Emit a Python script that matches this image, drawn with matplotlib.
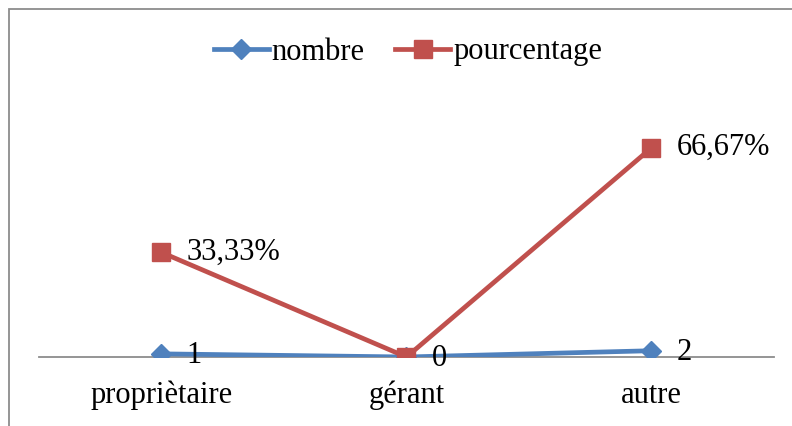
import matplotlib.pyplot as plt
from matplotlib.patches import Rectangle

# Données
categories = ['propriètaire', 'gérant', 'autre']
nombre = [1, 0, 2]
pourcentage = [33.33, 0, 66.67]
etiquettes_pct = ['33,33%', '0', '66,67%']
etiquettes_nb = ['1', '0', '2']

plt.rcParams['font.family'] = ['Liberation Serif', 'DejaVu Serif']

fig = plt.figure(figsize=(7.92, 4.26), dpi=100)

# Cadre du graphique (partiellement coupé à droite et en bas)
fig.patches.append(Rectangle((9 / 792, -0.1), 1.2, (426 - 9) / 426 + 0.1,
                             transform=fig.transFigure, fill=False,
                             edgecolor='#8c8c8c', linewidth=1.3))

ax = fig.add_axes([39 / 792, 69 / 426, (774 - 39) / 792, 251 / 426])
x = range(len(categories))

ax.plot(x, nombre, color='#4F81BD', linewidth=3.4, marker='D', markersize=10,
        label='nombre', zorder=3)
ax.plot(x, pourcentage, color='#C0504D', linewidth=3.4, marker='s', markersize=13,
        label='pourcentage', zorder=3)

# Étiquettes de données
for i in x:
    if pourcentage[i] != 0:
        ax.annotate(etiquettes_pct[i], (i, pourcentage[i]), xytext=(18, 0),
                    textcoords='offset points', va='center', ha='left', fontsize=22)
    ax.annotate(etiquettes_nb[i], (i, nombre[i]), xytext=(18, -1),
                textcoords='offset points', va='center', ha='left', fontsize=22)

ax.set_xlim(-0.5, 2.5)
ax.set_ylim(0, 80)
ax.set_xticks(list(x))
ax.set_xticklabels(categories, fontsize=22)
ax.tick_params(axis='x', length=0, pad=17)
ax.set_yticks([])
for s in ['top', 'right', 'left']:
    ax.spines[s].set_visible(False)
ax.spines['bottom'].set_color('#8c8c8c')
ax.spines['bottom'].set_linewidth(1.3)
ax.spines['bottom'].set_zorder(1)
ax.patch.set_alpha(0)

# Légende
fig.legend(loc='center', bbox_to_anchor=(408 / 792, 1 - 52 / 426), ncol=2,
           frameon=False, fontsize=22, handlelength=1.8, handletextpad=0.1,
           columnspacing=1.0)

plt.savefig('out.png', dpi=100)
